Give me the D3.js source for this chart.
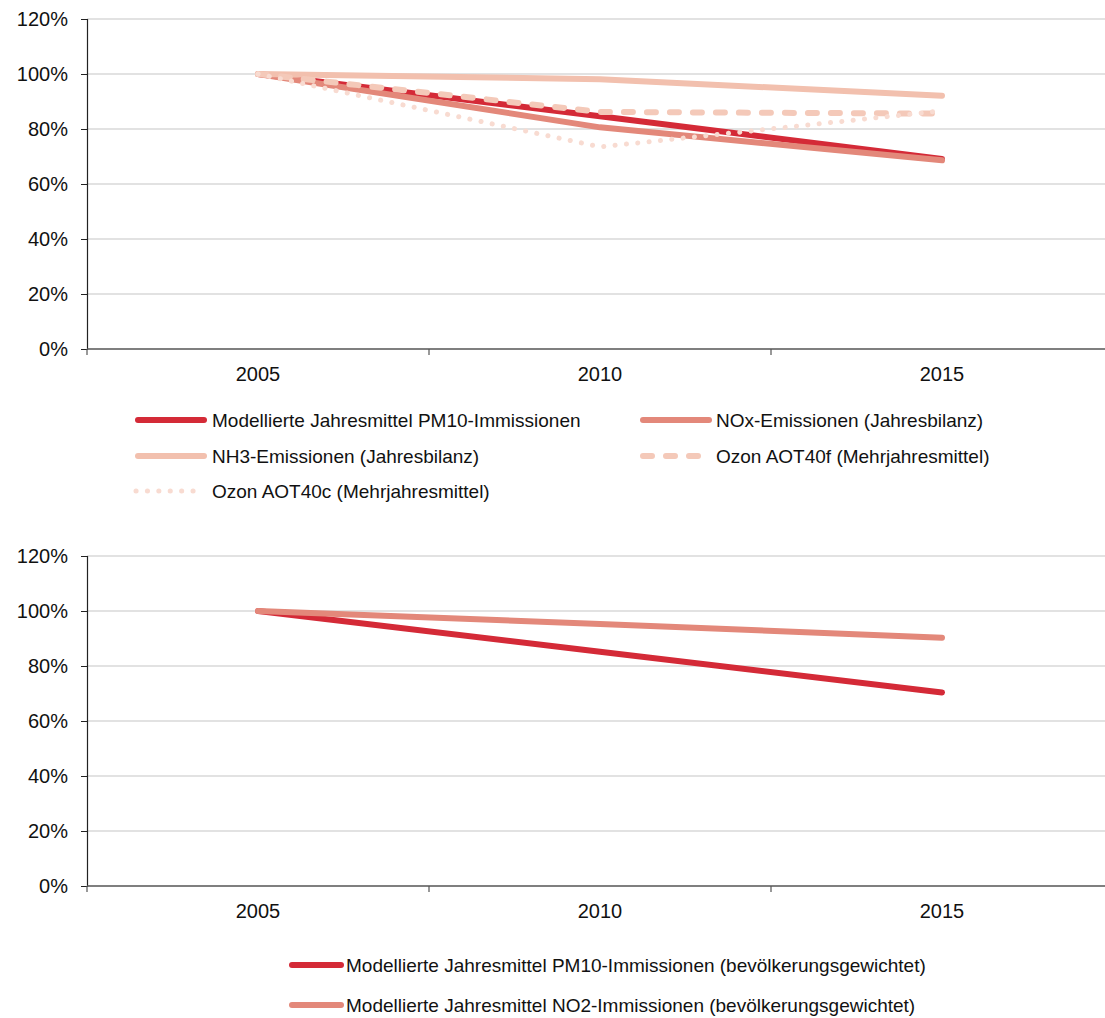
<!DOCTYPE html>
<html>
<head>
<meta charset="utf-8">
<script src="https://cdn.jsdelivr.net/npm/d3@7"></script>
<style>
  html, body { margin: 0; padding: 0; background: #fff; }
  svg { display: block; font-family: "Liberation Sans", Arial, sans-serif; }
</style>
</head>
<body>
<svg id="chart" width="1105" height="1018"></svg>
<script>
// ---- data ----
const years = ["2005", "2010", "2015"];
const yTicks = [0, 0.2, 0.4, 0.6, 0.8, 1.0, 1.2];

// top panel
const pm10 = [1.00, 0.846, 0.691];
const nox = [1.00, 0.806, 0.686];
const nh3 = [1.00, 0.981, 0.921];
const aot40f = [1.00, 0.862, 0.856];
const aot40c = [1.00, 0.735, 0.866];

// bottom panel
const pm10Weighted = [1.00, 0.852, 0.704];
const no2Weighted = [1.00, 0.953, 0.903];

const topNames = [
  "Modellierte Jahresmittel PM10-Immissionen",
  "NOx-Emissionen (Jahresbilanz)",
  "NH3-Emissionen (Jahresbilanz)",
  "Ozon AOT40f (Mehrjahresmittel)",
  "Ozon AOT40c (Mehrjahresmittel)"
];
const bottomNames = [
  "Modellierte Jahresmittel PM10-Immissionen (bevölkerungsgewichtet)",
  "Modellierte Jahresmittel NO2-Immissionen (bevölkerungsgewichtet)"
];

// ---- styles ----
const styles = {
  pm10: { color: "#d42a37", width: 6, dash: null },
  nox: { color: "#e3887a", width: 6, dash: null },
  nh3: { color: "#f2c0ae", width: 6, dash: null },
  aot40f: { color: "#f4c9b9", width: 6, dash: "9,14" },
  aot40c: { color: "#f8dbd1", width: 5, dash: "0.1,11.3" }
};

const svg = d3.select("#chart");
const W = 1105;

function panel(top, bottom, seriesList) {
  const x = d3.scaleBand().domain(years).range([87, 1113]);
  const y = d3.scaleLinear().domain([0, 1.2]).range([bottom, top]);
  const g = svg.append("g");

  // grid
  g.append("g").selectAll("line").data(yTicks.filter(d => d > 0)).join("line")
    .attr("x1", 87).attr("x2", W)
    .attr("y1", d => y(d)).attr("y2", d => y(d))
    .attr("stroke", "#d9d9d9").attr("stroke-width", 1.5);

  // y axis
  const ya = g.append("g").attr("transform", "translate(87,0)")
    .call(d3.axisLeft(y).tickValues(yTicks).tickFormat(d3.format(".0%")).tickSize(6).tickPadding(13));
  ya.select(".domain").attr("stroke", "#222").attr("stroke-width", 1.2);
  ya.selectAll(".tick line").attr("stroke", "#222");
  ya.selectAll("text").attr("font-size", 20).attr("fill", "#111").attr("font-family", "Liberation Sans, Arial, sans-serif");

  // x axis
  const xa = g.append("g").attr("transform", `translate(0,${bottom})`)
    .call(d3.axisBottom(x).tickSize(0).tickPadding(18));
  xa.select(".domain").remove();
  xa.selectAll("text").attr("font-size", 20).attr("fill", "#111").attr("font-family", "Liberation Sans, Arial, sans-serif");
  g.append("line").attr("x1", 87).attr("x2", W).attr("y1", bottom).attr("y2", bottom)
    .attr("stroke", "#555").attr("stroke-width", 1.5);
  g.append("g").selectAll("line").data(years).join("line")
    .attr("x1", d => x(d)).attr("x2", d => x(d))
    .attr("y1", bottom).attr("y2", bottom + 6)
    .attr("stroke", "#555").attr("stroke-width", 1.2);

  const line = d3.line()
    .x((d, i) => x(years[i]) + x.bandwidth() / 2)
    .y(d => y(d))
    .curve(d3.curveLinear);

  seriesList.forEach(s => {
    g.append("path").datum(s.values)
      .attr("d", line)
      .attr("fill", "none")
      .attr("stroke", s.style.color)
      .attr("stroke-width", s.style.width)
      .attr("stroke-linecap", "round")
      .attr("stroke-linejoin", "round")
      .attr("stroke-dasharray", s.style.dash);
  });
}

panel(19, 349, [
  { values: pm10, style: styles.pm10 },
  { values: nox, style: styles.nox },
  { values: nh3, style: styles.nh3 },
  { values: aot40f, style: styles.aot40f },
  { values: aot40c, style: styles.aot40c }
]);

panel(556, 886, [
  { values: pm10Weighted, style: styles.pm10 },
  { values: no2Weighted, style: styles.nox }
]);

// legends
function legendItem(x0, x1, tx, yy, name, style) {
  svg.append("line").attr("x1", x0).attr("x2", x1).attr("y1", yy).attr("y2", yy)
    .attr("stroke", style.color).attr("stroke-width", style.width)
    .attr("stroke-linecap", "round").attr("stroke-dasharray", style.dash);
  svg.append("text").attr("x", tx).attr("y", yy).attr("dy", "0.35em")
    .attr("font-size", 19).attr("fill", "#111").text(name);
}

legendItem(138, 204, 212, 420, topNames[0], styles.pm10);
legendItem(643, 709, 716, 420, topNames[1], styles.nox);
legendItem(138, 204, 212, 456, topNames[2], styles.nh3);
legendItem(643, 709, 716, 456, topNames[3], styles.aot40f);
legendItem(136, 204, 212, 491, topNames[4], styles.aot40c);

legendItem(292, 341, 346, 965, bottomNames[0], styles.pm10);
legendItem(292, 341, 346, 1005, bottomNames[1], styles.nox);
</script>
</body>
</html>
